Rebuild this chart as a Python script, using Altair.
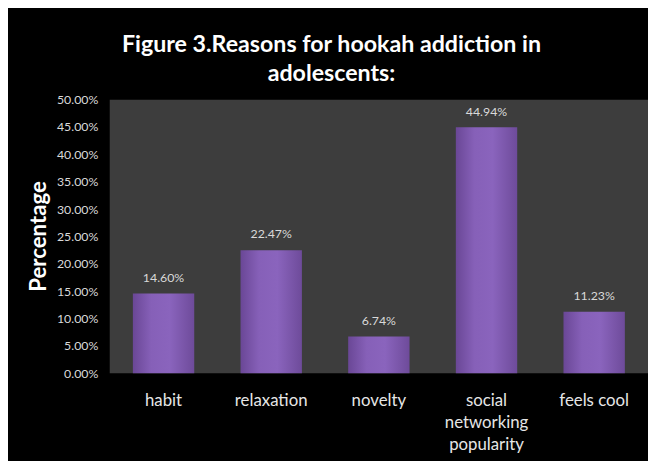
import altair as alt
import pandas as pd

categories = ["habit", "relaxation", "novelty", "social networking popularity", "feels cool"]
values = [0.1460, 0.2247, 0.0674, 0.4494, 0.1123]
labels = ["14.60%", "22.47%", "6.74%", "44.94%", "11.23%"]
y_ticks = [0.0, 0.05, 0.10, 0.15, 0.20, 0.25, 0.30, 0.35, 0.40, 0.45, 0.50]

df = pd.DataFrame({"reason": categories, "value": values, "label": labels})

FONT = "Lato"

x = alt.X(
    "reason:N",
    sort=categories,
    scale=alt.Scale(paddingInner=0.43, paddingOuter=0.215),
    axis=alt.Axis(
        title=None,
        labelAngle=0,
        labelColor="#e6e6e6",
        labelFont=FONT,
        labelFontSize=17,
        labelPadding=28,
        labelLineHeight=22,
        labelBaseline="middle",
        labelOverlap=False,
        ticks=False,
        tickSize=0,
        domain=False,
        labelExpr="datum.label == 'social networking popularity' ? ['social', 'networking', 'popularity'] : datum.label",
    ),
)

y = alt.Y(
    "value:Q",
    scale=alt.Scale(domain=[0, 0.5], nice=False),
    axis=alt.Axis(
        title="Percentage",
        values=y_ticks,
        tickCount=11,
        format=".2%",
        grid=False,
        ticks=False,
        tickSize=0,
        domain=False,
        labelOverlap=False,
        labelColor="#d9d9d9",
        labelFont=FONT,
        labelFontSize=12.5,
        labelPadding=12,
        titleColor="#ffffff",
        titleFont=FONT,
        titleFontSize=22.5,
        titleFontWeight="bold",
        titleAngle=-90,
        titleX=-72,
        titleY=138,
        titleAlign="center",
        titleBaseline="middle",
    ),
)

gradient = alt.Gradient(
    gradient="linear",
    x1=0, x2=1, y1=0, y2=0,
    stops=[
        alt.GradientStop(color="#6a4796", offset=0),
        alt.GradientStop(color="#8660b8", offset=0.3),
        alt.GradientStop(color="#8a64bd", offset=0.6),
        alt.GradientStop(color="#6e4b9a", offset=1),
    ],
)

base = alt.Chart(df).encode(x=x, y=y)

bars = base.mark_bar(color=gradient)

text = base.mark_text(
    baseline="bottom", dy=-9, color="#d9d9d9", font=FONT, fontSize=12.5
).encode(text="label:N")

chart = (
    alt.layer(bars, text)
    .properties(
        width=545,
        height=277,
        autosize=alt.AutoSizeParams(type="none"),
        padding={"left": 103, "top": 90, "right": 0, "bottom": 86},
        background="#000000",
        title=alt.TitleParams(
            text=["Figure 3.Reasons for hookah addiction in", "adolescents:"],
            color="#ffffff",
            font=FONT,
            fontSize=23.5,
            fontWeight="bold",
            lineHeight=30,
            anchor="middle",
            dx=-48,
            offset=8,
        ),
    )
    .configure_view(fill="#3d3d3d", stroke=None)
)

chart.save("out.html", embed_options={"renderer": "svg", "actions": False})
